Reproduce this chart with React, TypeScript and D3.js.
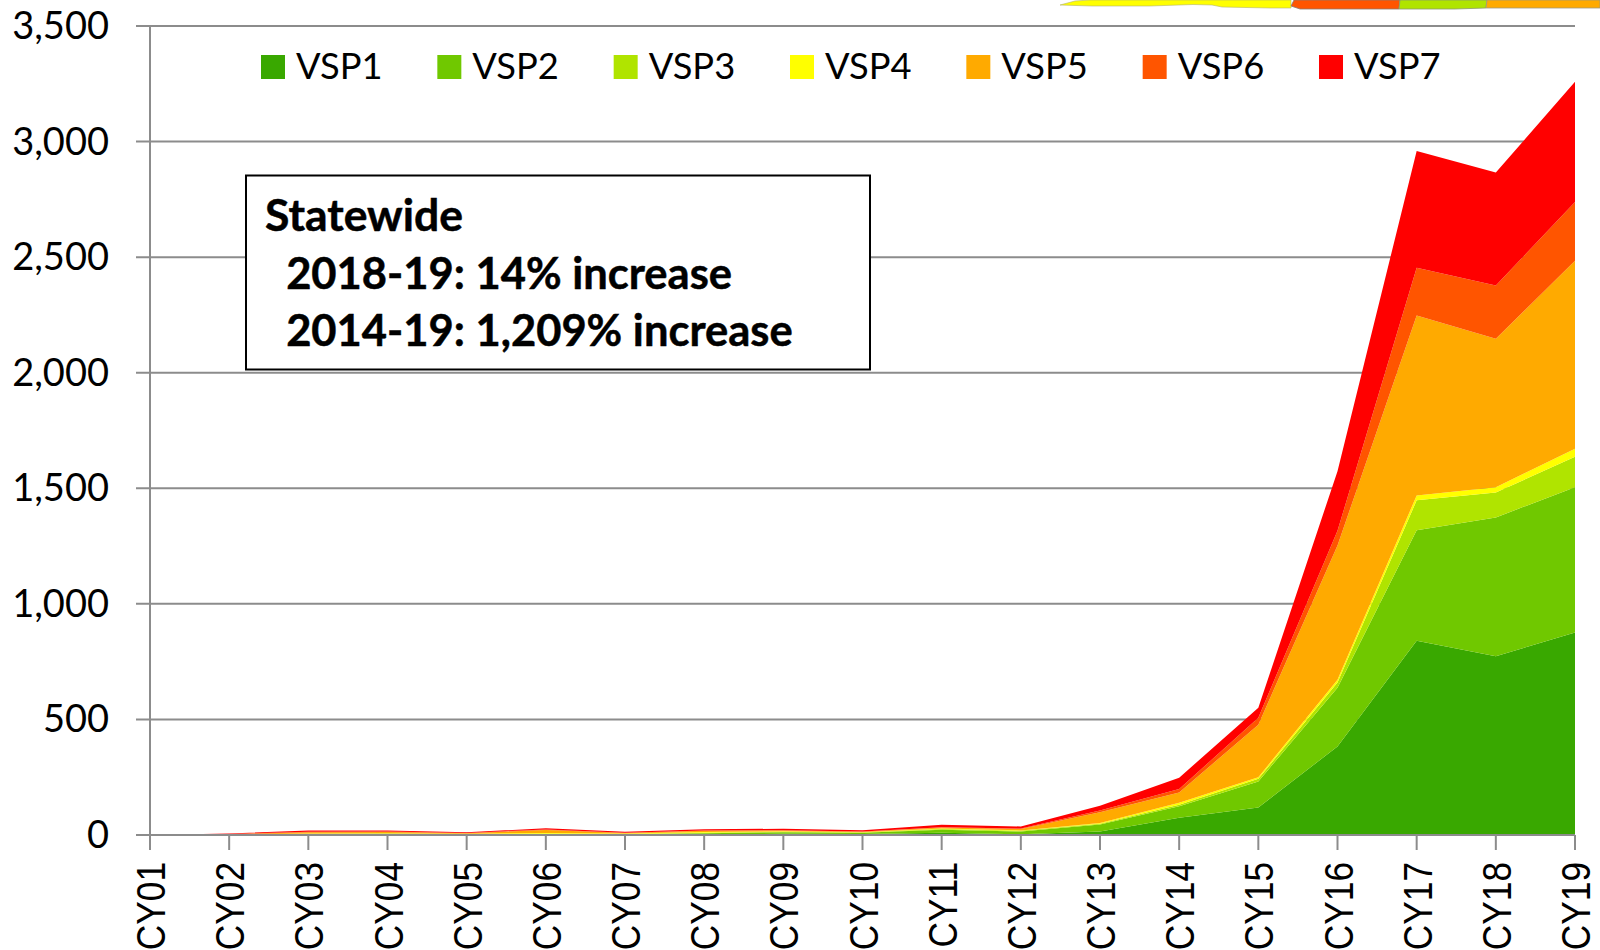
import React from "react";
import * as d3 from "d3";

const categories = ["CY01","CY02","CY03","CY04","CY05","CY06","CY07","CY08","CY09","CY10","CY11","CY12","CY13","CY14","CY15","CY16","CY17","CY18","CY19"];
const seriesNames = ["VSP1","VSP2","VSP3","VSP4","VSP5","VSP6","VSP7"];
const seriesColors = ["#39a800","#70c800","#b0e400","#ffff00","#ffaa00","#ff5500","#ff0000"];
const vsp1 = [0,0,1,2,1,1,1,3,5,4,10,3,15,75,119,383,840,773,876];
const vsp2 = [0,1,3,3,2,2,2,5,7,6,13,12,30,49,113,254,478,601,629];
const vsp3 = [0,0,1,1,1,2,1,2,2,1,3,3,4,7,11,23,130,108,131];
const vsp4 = [0,1,2,2,1,4,2,3,2,1,2,2,3,8,7,12,21,23,35];
const vsp5 = [0,1,5,5,3,13,3,5,4,2,4,6,46,45,227,580,779,642,813];
const vsp6 = [0,1,2,2,1,2,1,2,1,1,2,2,8,15,30,64,206,230,255];
const vsp7 = [0,3,5,5,3,5,4,5,6,6,10,9,21,49,43,258,505,489,520];
const seriesValues = [vsp1,vsp2,vsp3,vsp4,vsp5,vsp6,vsp7];
const yTicks = [0,500,1000,1500,2000,2500,3000,3500];
const boxLines = ["Statewide","  2018-19: 14% increase","  2014-19: 1,209% increase"];

const LEFT = 150, RIGHT = 1575, TOP = 26, BOTTOM = 835;
const AXIS = "#8c8c8c";
const SANS = "Lato, 'Open Sans', sans-serif";

export default function App() {
  const x = d3.scalePoint<string>().domain(categories).range([LEFT, RIGHT]);
  const y = d3.scaleLinear().domain([0, 3500]).range([BOTTOM, TOP]);
  const rows = categories.map((c, i) => {
    const r: Record<string, any> = { c };
    seriesNames.forEach((n, k) => (r[n] = seriesValues[k][i]));
    return r;
  });
  const stacked = d3.stack<any>().keys(seriesNames)(rows);
  const area = d3.area<any>()
    .x((d) => x(d.data.c)!)
    .y0((d) => y(d[0]))
    .y1((d) => y(d[1]));
  const legendX = d3.scalePoint<string>().domain(seriesNames).range([261, 1319]);
  return (
    <svg width={1600} height={950} style={{ position: "fixed", left: 0, top: 0, background: "#fff" }}>
      <path d="M1060 5 L1075 1 L1090 0 L1291 0 L1291 8 L1270 8 L1222 7 L1212 5 L1193 4.5 L1150 6 L1092 6Z" fill="#ffff00" stroke="#b4b46e" strokeWidth={0.6} />
      <path d="M1294 0 L1400 0 L1399 9 L1300 9 L1291 6Z" fill="#ff5500" stroke="#8c7a6e" strokeWidth={0.8} />
      <path d="M1400 0 L1487 0 L1486 8 L1455 9 L1399 9Z" fill="#b0e400" stroke="#8c9a6e" strokeWidth={0.8} />
      <path d="M1487 0 L1600 0 L1600 8 L1486 8Z" fill="#ffaa00" stroke="#a09a7e" strokeWidth={0.8} />
      {yTicks.map((t) => (
        <g key={t}>
          <line x1={LEFT - 14} x2={RIGHT} y1={y(t)} y2={y(t)} stroke={AXIS} strokeWidth={2} />
          <text x={LEFT - 41} y={y(t) + 13} textAnchor="end" fontFamily={SANS} fontSize={38} fill="#000">
            {d3.format(",")(t)}
          </text>
        </g>
      ))}
      <line x1={LEFT} x2={LEFT} y1={TOP} y2={BOTTOM + 15} stroke={AXIS} strokeWidth={2} />
      {stacked.map((s, i) => (
        <path key={s.key} d={area(s as any)!} fill={seriesColors[i]} />
      ))}
      <line x1={LEFT - 14} x2={RIGHT} y1={BOTTOM} y2={BOTTOM} stroke={AXIS} strokeWidth={2} />
      {categories.map((c) => (
        <g key={c}>
          <line x1={x(c)} x2={x(c)} y1={BOTTOM} y2={BOTTOM + 15} stroke={AXIS} strokeWidth={2} />
          <text
            transform={`translate(${x(c)! + 15},862) rotate(-90) scale(0.86,1)`}
            textAnchor="end"
            fontFamily="'Liberation Sans', Arial, sans-serif"
            fontSize={41}
            fill="#000"
          >
            {c}
          </text>
        </g>
      ))}
      {seriesNames.map((n, i) => (
        <g key={n}>
          <rect x={legendX(n)} y={55} width={24} height={24} fill={seriesColors[i]} />
          <text x={legendX(n)! + 35} y={79} fontFamily={SANS} fontSize={36.3} fill="#000">{n}</text>
        </g>
      ))}
      <rect x={246} y={175.5} width={624} height={194} fill="#fff" stroke="#000" strokeWidth={2} />
      {boxLines.map((l, i) => (
        <text key={i} x={265} y={231 + i * 57.5} xmlSpace="preserve" style={{ whiteSpace: "pre" }} fontFamily={SANS} fontWeight={700} fontSize={i === 0 ? 44.5 : 43.5} stroke="#000" strokeWidth={0.5} fill="#000">
          {l}
        </text>
      ))}
    </svg>
  );
}
